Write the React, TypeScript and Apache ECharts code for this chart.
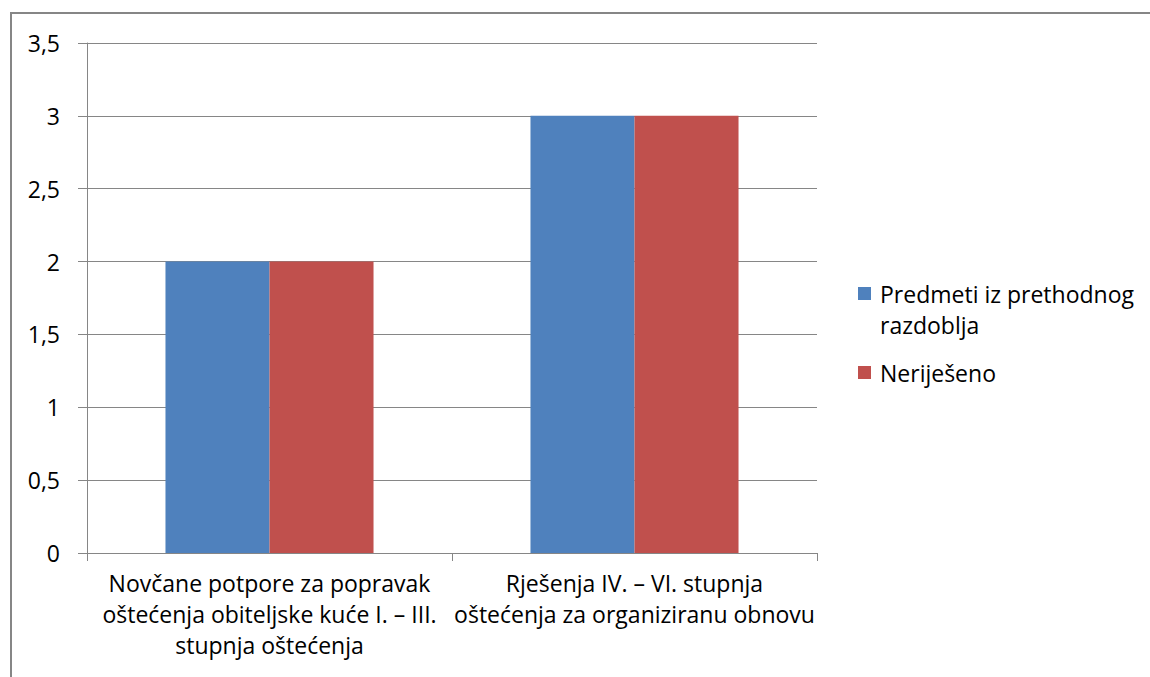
import React, { useEffect, useRef } from "react";
import * as echarts from "echarts";

const categories = [
  "Novčane potpore za popravak\noštećenja obiteljske kuće I. – III.\nstupnja oštećenja",
  "Rješenja IV. – VI. stupnja\noštećenja za organiziranu obnovu",
];
const seriesNames = ["Predmeti iz prethodnog razdoblja", "Neriješeno"];
const legendLabels = ["Predmeti iz prethodnog\nrazdoblja", "Neriješeno"];
const predmeti = [2, 3];
const nerijeseno = [2, 3];
const colors = ["#4F81BD", "#C0504D"];

const FONT = "Open Sans";
const FS = 23;

export default function App() {
  const ref = useRef<HTMLDivElement>(null);
  useEffect(() => {
    if (!ref.current) return;
    const chart = echarts.init(ref.current, null, { renderer: "svg" });
    chart.setOption({
      animation: false,
      backgroundColor: "#ffffff",
      textStyle: { fontFamily: FONT },
      grid: { left: 87, top: 43, right: 333, bottom: 124 },
      xAxis: {
        type: "category",
        data: categories,
        axisLine: { show: true, lineStyle: { color: "#868686", width: 1 } },
        axisTick: { show: true, length: 8, alignWithLabel: false, lineStyle: { color: "#868686" } },
        axisLabel: {
          color: "#000",
          fontSize: FS,
          fontFamily: FONT,
          lineHeight: 31,
          margin: 14,
          interval: 0,
          align: "center",
        },
        splitLine: { show: false },
      },
      yAxis: {
        type: "value",
        min: 0,
        max: 3.5,
        interval: 0.5,
        axisLine: { show: true, lineStyle: { color: "#868686", width: 1 } },
        axisTick: { show: true, length: 9, lineStyle: { color: "#868686" } },
        axisLabel: {
          color: "#000",
          fontSize: FS,
          fontFamily: FONT,
          margin: 27,
          formatter: (v: number) => String(v).replace(".", ","),
        },
        splitLine: { show: true, lineStyle: { color: "#868686", width: 1 } },
      },
      series: [
        {
          name: seriesNames[0],
          type: "bar",
          data: predmeti,
          itemStyle: { color: colors[0] },
          barGap: "0%",
          barCategoryGap: "43%",
        },
        {
          name: seriesNames[1],
          type: "bar",
          data: nerijeseno,
          itemStyle: { color: colors[1] },
          barGap: "0%",
          barCategoryGap: "43%",
        },
      ],
      graphic: [
        {
          type: "rect",
          shape: { x: 11, y: 13, width: 1200, height: 720 },
          style: { fill: "none", stroke: "#868686", lineWidth: 2 },
          silent: true,
        },
        {
          type: "rect",
          shape: { x: 858, y: 287, width: 13, height: 13 },
          style: { fill: colors[0] },
        },
        {
          type: "text",
          x: 880,
          y: 278,
          style: {
            text: legendLabels[0],
            fontSize: FS,
            fontFamily: FONT,
            lineHeight: 31,
            fill: "#000",
            verticalAlign: "top",
          },
        },
        {
          type: "rect",
          shape: { x: 858, y: 366, width: 13, height: 13 },
          style: { fill: colors[1] },
        },
        {
          type: "text",
          x: 880,
          y: 357,
          style: {
            text: legendLabels[1],
            fontSize: FS,
            fontFamily: FONT,
            lineHeight: 31,
            fill: "#000",
            verticalAlign: "top",
          },
        },
      ],
    });
    return () => chart.dispose();
  }, []);
  return (
    <div
      ref={ref}
      style={{ position: "fixed", left: 0, top: 0, width: 1150, height: 677 }}
    />
  );
}
